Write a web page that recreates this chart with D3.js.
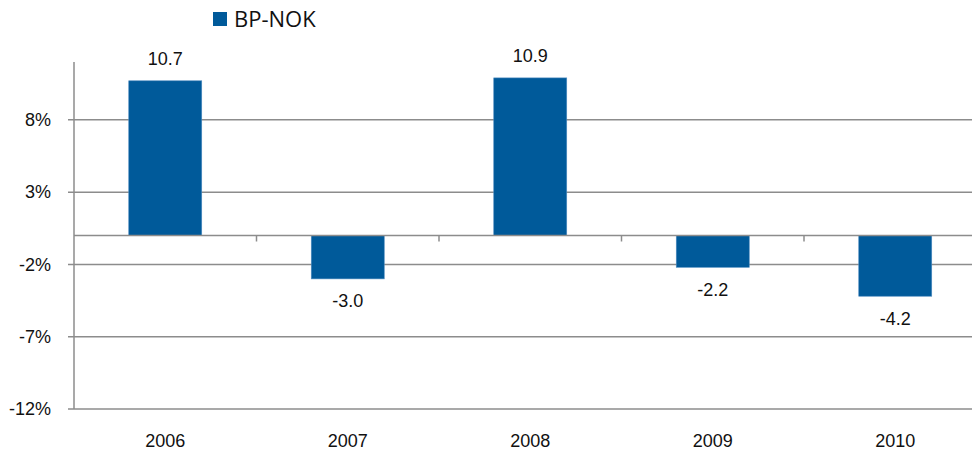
<!DOCTYPE html>
<html>
<head>
<meta charset="utf-8">
<script src="https://cdn.jsdelivr.net/npm/d3@7"></script>
<style>
  body { margin: 0; background: #fff; }
  text { font-family: "Liberation Sans", Arial, sans-serif; fill: #111; }
</style>
</head>
<body>
<svg width="972" height="455"></svg>
<script>
var years = ["2006", "2007", "2008", "2009", "2010"];
var values = [10.7, -3.0, 10.9, -2.2, -4.2];
var yTicks = [8, 3, -2, -7, -12];
var seriesName = "BP-NOK";

var svg = d3.select("svg");
var margin = { top: 62, left: 74 };
var plotRight = 986.5;
var plotBottom = 409;

var x = d3.scaleBand().domain(years).range([margin.left, plotRight]).paddingInner(0.6).paddingOuter(0.3);
var xb = d3.scaleBand().domain(years).range([margin.left, plotRight]);
var y = d3.scaleLinear().domain([-12, 12]).range([plotBottom, margin.top]);

var grey = "#8c8c8c";

// gridlines
svg.append("g").selectAll("line").data(yTicks).enter().append("line")
    .attr("x1", margin.left - 6).attr("x2", plotRight)
    .attr("y1", function (d) { return y(d); }).attr("y2", function (d) { return y(d); })
    .attr("stroke", grey).attr("stroke-width", 1.5);

// y axis line
svg.append("line").attr("x1", margin.left).attr("x2", margin.left)
    .attr("y1", margin.top).attr("y2", plotBottom)
    .attr("stroke", grey).attr("stroke-width", 1.5);

// y labels
svg.append("g").selectAll("text").data(yTicks).enter().append("text")
    .attr("x", 51).attr("y", function (d) { return y(d); }).attr("dy", "0.35em")
    .attr("text-anchor", "end").style("font-size", "18px")
    .text(function (d) { return d + "%"; });

// bars
svg.append("g").selectAll("rect").data(values).enter().append("rect")
    .attr("x", function (d, i) { return x(years[i]); })
    .attr("width", x.bandwidth())
    .attr("y", function (d) { return y(Math.max(0, d)); })
    .attr("height", function (d) { return Math.abs(y(d) - y(0)); })
    .attr("fill", "#005a9a").attr("stroke", "#4f8cc0").attr("stroke-width", 0.6);

// zero axis with category ticks
svg.append("line").attr("x1", margin.left).attr("x2", plotRight)
    .attr("y1", y(0)).attr("y2", y(0))
    .attr("stroke", grey).attr("stroke-width", 1.5);
svg.append("g").selectAll("line").data(years.slice(1)).enter().append("line")
    .attr("x1", function (d) { return xb(d); }).attr("x2", function (d) { return xb(d); })
    .attr("y1", y(0)).attr("y2", y(0) + 6)
    .attr("stroke", grey).attr("stroke-width", 1.5);

// value labels
svg.append("g").selectAll("text").data(values).enter().append("text")
    .attr("x", function (d, i) { return x(years[i]) + x.bandwidth() / 2; })
    .attr("y", function (d) { return d >= 0 ? y(d) - 22 : y(d) + 22; })
    .attr("dy", "0.35em").attr("text-anchor", "middle").style("font-size", "18px")
    .text(function (d) { return d.toFixed(1); });

// category labels
svg.append("g").selectAll("text").data(years).enter().append("text")
    .attr("x", function (d) { return x(d) + x.bandwidth() / 2; })
    .attr("y", 441).attr("dy", "0.35em").attr("text-anchor", "middle").style("font-size", "18px")
    .text(function (d) { return d; });

// legend
svg.append("rect").attr("x", 213).attr("y", 12).attr("width", 14).attr("height", 14).attr("fill", "#005a9a");
svg.append("text").attr("x", 234).attr("y", 19.5).attr("dy", "0.35em")
    .style("font-family", "'Open Sans', sans-serif").style("font-size", "22px")
    .text(seriesName);
</script>
</body>
</html>
